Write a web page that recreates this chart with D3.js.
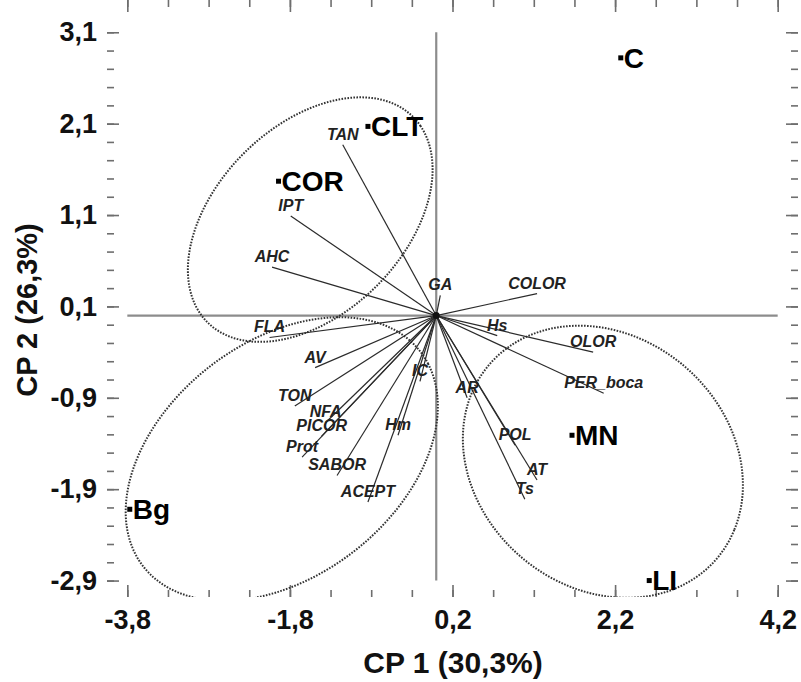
<!DOCTYPE html>
<html>
<head>
<meta charset="utf-8">
<script src="https://cdn.jsdelivr.net/npm/d3@7"></script>
<style>
  body { margin: 0; background: #fff; }
  svg { font-family: "Liberation Sans", Arial, sans-serif; }
</style>
</head>
<body>
<div id="chart"></div>
<script>
// PCA biplot - CP1 vs CP2
var w = 801;
var h = 682;

// observations (samples)
var obsNames = ["C", "CLT", "COR", "Bg", "MN", "LI"];
var obsCP1 = [2.27, -0.84, -1.94, -3.77, 1.67, 2.62];
var obsCP2 = [2.82, 2.07, 1.47, -2.12, -1.31, -2.90];

// variables (loadings)
var varNames = ["TAN", "IPT", "AHC", "GA", "COLOR", "Hs", "OLOR", "PER_boca",
  "FLA", "AV", "TON", "NFA", "PICOR", "Prot", "SABOR", "ACEPT",
  "Hm", "IC", "AR", "POL", "AT", "Ts"];
var varCP1 = [-1.15, -1.79, -2.02, 0.05, 1.24, 0.75, 1.93, 2.06,
  -2.05, -1.49, -1.74, -1.36, -1.41, -1.65, -1.22, -0.84,
  -0.47, -0.20, 0.38, 0.97, 1.24, 1.09];
var varCP2 = [1.87, 1.09, 0.53, 0.22, 0.24, -0.22, -0.40, -0.85,
  -0.24, -0.57, -0.99, -1.17, -1.32, -1.55, -1.75, -2.04,
  -1.31, -0.72, -0.90, -1.42, -1.80, -2.01];

// group ellipses
var ellCP1 = [-1.55, -1.90, 2.05];
var ellCP2 = [1.05, -1.57, -1.60];
var ellRx = [1.70, 2.08, 1.78];
var ellRy = [1.08, 1.33, 1.42];
var ellAngle = [37, 30, -24.7];

// ticks
var xMajor = [-3.8, -1.8, 0.2, 2.2, 4.2];
var xTickLabels = ["-3,8", "-1,8", "0,2", "2,2", "4,2"];
var yMajor = [-2.9, -1.9, -0.9, 0.1, 1.1, 2.1, 3.1];
var yTickLabels = ["-2,9", "-1,9", "-0,9", "0,1", "1,1", "2,1", "3,1"];
var xMinor = d3.range(-3.8, 4.25, 0.5);
var yMinor = d3.range(-2.9, 3.15, 0.2);

var x = d3.scaleLinear().domain([-4.05, 4.45]).range([107, 798]);
var y = d3.scaleLinear().domain([-3.08, 3.3]).range([597, 14]);

var svg = d3.select("#chart").append("svg").attr("width", w).attr("height", h);

svg.append("clipPath").attr("id", "plotclip")
  .append("rect")
  .attr("x", 107).attr("y", 14).attr("width", 691).attr("height", 583);

// axes with inward ticks
function styleAxis(g) {
  g.select(".domain").remove();
  g.selectAll(".tick line").attr("stroke", "#6e6e6e").attr("stroke-width", 1.6);
  g.selectAll(".tick text").attr("fill", "#111").attr("font-size", 27)
    .attr("font-weight", "bold").attr("font-family", "Liberation Sans, Arial, sans-serif");
}

var bottom = y.range()[0], top = y.range()[1], left = x.range()[0], right = x.range()[1];

svg.append("g").attr("transform", "translate(0," + bottom + ")")
  .call(d3.axisBottom(x).tickValues(xMinor).tickSize(-7).tickFormat("")).call(styleAxis);
svg.append("g").attr("transform", "translate(0," + bottom + ")")
  .call(d3.axisBottom(x).tickValues(xMajor).tickSize(-12).tickPadding(13)
    .tickFormat(function(d, i) { return xTickLabels[i]; }))
  .call(styleAxis);
svg.append("g").attr("transform", "translate(0," + top + ")")
  .call(d3.axisTop(x).tickValues(xMinor).tickSize(-7).tickFormat("")).call(styleAxis);
svg.append("g").attr("transform", "translate(0," + top + ")")
  .call(d3.axisTop(x).tickValues(xMajor).tickSize(-12).tickFormat("")).call(styleAxis);

svg.append("g").attr("transform", "translate(" + left + ",0)")
  .call(d3.axisLeft(y).tickValues(yMinor).tickSize(-7).tickFormat("")).call(styleAxis);
svg.append("g").attr("transform", "translate(" + left + ",0)")
  .call(d3.axisLeft(y).tickValues(yMajor).tickSize(-12).tickPadding(10)
    .tickFormat(function(d, i) { return yTickLabels[i]; }))
  .call(styleAxis);
svg.append("g").attr("transform", "translate(" + right + ",0)")
  .call(d3.axisRight(y).tickValues(yMinor).tickSize(-7).tickFormat("")).call(styleAxis);
svg.append("g").attr("transform", "translate(" + right + ",0)")
  .call(d3.axisRight(y).tickValues(yMajor).tickSize(-12).tickFormat("")).call(styleAxis);

// frame
svg.append("rect")
  .attr("x", left).attr("y", top)
  .attr("width", right - left).attr("height", bottom - top)
  .attr("fill", "none").attr("stroke", "#6e6e6e").attr("stroke-width", 2);

// zero cross
svg.append("line")
  .attr("x1", x(xMajor[0])).attr("x2", x(xMajor[xMajor.length - 1]))
  .attr("y1", y(0)).attr("y2", y(0))
  .attr("stroke", "#8c8c8c").attr("stroke-width", 2.2);
svg.append("line")
  .attr("x1", x(0)).attr("x2", x(0))
  .attr("y1", y(yMajor[yMajor.length - 1])).attr("y2", y(yMajor[0]))
  .attr("stroke", "#8c8c8c").attr("stroke-width", 2.2);

// ellipses
function ellipsePoints(i) {
  var r = ellAngle[i] * Math.PI / 180;
  return d3.range(0, 360, 2).map(function(deg) {
    var t = deg * Math.PI / 180;
    var a = ellRx[i] * Math.cos(t), b = ellRy[i] * Math.sin(t);
    return [ellCP1[i] + a * Math.cos(r) - b * Math.sin(r),
            ellCP2[i] + a * Math.sin(r) + b * Math.cos(r)];
  });
}
var ellLine = d3.line()
  .x(function(d) { return x(d[0]); })
  .y(function(d) { return y(d[1]); })
  .curve(d3.curveLinearClosed);

svg.append("g").attr("clip-path", "url(#plotclip)")
  .selectAll("path")
  .data(d3.range(ellCP1.length))
  .enter()
  .append("path")
  .attr("d", function(i) { return ellLine(ellipsePoints(i)); })
  .attr("fill", "none")
  .attr("stroke", "#333")
  .attr("stroke-width", 2)
  .attr("stroke-dasharray", "1.6,1.4");

// loading vectors
var vars = varNames.map(function(n, i) { return {name: n, cp1: varCP1[i], cp2: varCP2[i]}; });

svg.append("g").selectAll("line")
  .data(vars)
  .enter()
  .append("line")
  .attr("x1", x(0)).attr("y1", y(0))
  .attr("x2", function(d) { return x(d.cp1); })
  .attr("y2", function(d) { return y(d.cp2); })
  .attr("stroke", "#2b2b2b")
  .attr("stroke-width", 1.2);

svg.append("g").selectAll("text")
  .data(vars)
  .enter()
  .append("text")
  .text(function(d) { return d.name; })
  .attr("x", function(d) { return x(d.cp1); })
  .attr("y", function(d) { return y(d.cp2) - 5; })
  .attr("text-anchor", "middle")
  .attr("font-size", 16)
  .attr("font-style", "italic")
  .attr("font-weight", "bold")
  .attr("fill", "#222");

// centre dot
svg.append("circle").attr("cx", x(0)).attr("cy", y(0)).attr("r", 3.5).attr("fill", "#111");

// observations
var obs = obsNames.map(function(n, i) { return {name: n, cp1: obsCP1[i], cp2: obsCP2[i]}; });

svg.append("g").selectAll("rect")
  .data(obs)
  .enter()
  .append("rect")
  .attr("x", function(d) { return x(d.cp1) - 2.5; })
  .attr("y", function(d) { return y(d.cp2) - 2.5; })
  .attr("width", 5).attr("height", 5)
  .attr("fill", "#000");

svg.append("g").selectAll("text")
  .data(obs)
  .enter()
  .append("text")
  .text(function(d) { return d.name; })
  .attr("x", function(d) { return x(d.cp1) + 3; })
  .attr("y", function(d) { return y(d.cp2); })
  .attr("dy", "0.35em")
  .attr("font-size", 28)
  .attr("font-weight", "bold")
  .attr("fill", "#000");

// axis titles
svg.append("text")
  .text("CP 1 (30,3%)")
  .attr("x", 453).attr("y", 673)
  .attr("text-anchor", "middle")
  .attr("font-size", 30).attr("font-weight", "bold").attr("fill", "#111");

svg.append("text")
  .text("CP 2 (26,3%)")
  .attr("transform", "translate(37,310) rotate(-90)")
  .attr("text-anchor", "middle")
  .attr("font-size", 29).attr("font-weight", "bold").attr("fill", "#111");
</script>
</body>
</html>
